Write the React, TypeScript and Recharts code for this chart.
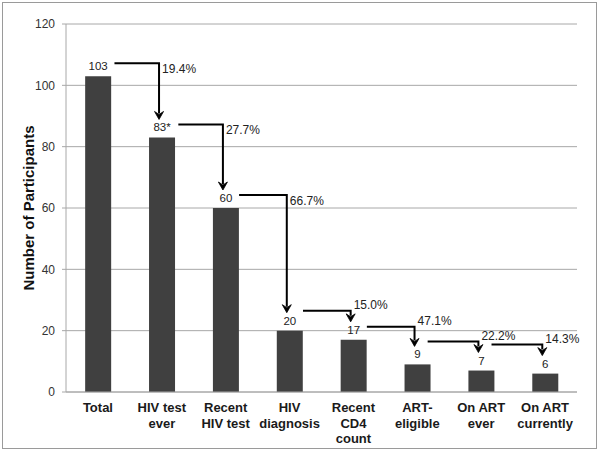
import React from 'react';
import { BarChart, Bar, XAxis, YAxis, CartesianGrid, LabelList } from 'recharts';

const categories = [
  'Total',
  'HIV test\never',
  'Recent\nHIV test',
  'HIV\ndiagnosis',
  'Recent\nCD4\ncount',
  'ART-\neligible',
  'On ART\never',
  'On ART\ncurrently',
];
const counts = [103, 83, 60, 20, 17, 9, 7, 6];
const countLabels = ['103', '83*', '60', '20', '17', '9', '7', '6'];
const dropPercents = ['19.4%', '27.7%', '66.7%', '15.0%', '47.1%', '22.2%', '14.3%'];
const yTicks = [0, 20, 40, 60, 80, 100, 120];

const data = categories.map((c, i) => ({ name: c, count: counts[i] }));

const W = 600;
const H = 451;
const M = { top: 24, right: 23, left: 0, bottom: 0 };
const Y_AXIS_W = 66;
const X_AXIS_H = 59;
const BAND = (W - M.left - M.right - Y_AXIS_W) / categories.length;

const FONT = '"Liberation Sans", Arial, Helvetica, sans-serif';

const XTick = (props: any) => {
  const { x, y, payload } = props;
  const lines = String(payload.value).split('\n');
  return (
    <text
      x={x}
      y={y}
      textAnchor="middle"
      fontFamily={FONT}
      fontSize={13}
      fontWeight="bold"
      fill="#1a1a1a"
    >
      {lines.map((l, k) => (
        <tspan key={k} x={x} dy={k === 0 ? 12 : 15.5}>
          {l}
        </tspan>
      ))}
    </text>
  );
};

const Annot = (props: any) => {
  const { x, y, width, height, index } = props;
  const i = index as number;
  const v = counts[i];
  const cx = Number(x) + Number(width) / 2;
  const top = Number(y);
  const base = top + Number(height);
  const ppu = Number(height) / v;
  const label = countLabels[i];
  const els: React.ReactNode[] = [];
  els.push(
    <text
      key="v"
      x={cx}
      y={top - 10}
      textAnchor="middle"
      dominantBaseline="central"
      fontFamily={FONT}
      fontSize={11.5}
      fill="#222"
    >
      {label}
    </text>
  );
  if (i < counts.length - 1) {
    const nextTop = base - counts[i + 1] * ppu;
    const textW = label.length * 6.2;
    const x0 = cx + textW / 2 + 7;
    const x1 = cx + BAND - 3;
    const tip = nextTop - 18;
    const hy = Math.min(top - 13, tip - 11);
    const ty = tip - hy < 22 ? hy - 6 : hy + 6;
    els.push(
      <path
        key="a"
        d={`M${x0},${hy} H${x1} V${tip - 6}`}
        fill="none"
        stroke="#000"
        strokeWidth={2}
      />
    );
    els.push(
      <polygon
        key="h"
        points={`${x1 - 4.5},${tip - 8} ${x1},${tip - 5} ${x1 + 4.5},${tip - 8} ${x1},${tip}`}
        fill="#000"
        stroke="#000"
        strokeWidth={0.8}
        strokeLinejoin="round"
      />
    );
    els.push(
      <text
        key="p"
        x={x1 + 3}
        y={ty}
        textAnchor="start"
        dominantBaseline="central"
        fontFamily={FONT}
        fontSize={12}
        fill="#222"
      >
        {dropPercents[i]}
      </text>
    );
  }
  return <g>{els}</g>;
};

const YLabel = (props: any) => {
  const vb = props.viewBox || { x: 0, y: M.top, width: Y_AXIS_W, height: H - M.top - X_AXIS_H };
  const cx = vb.x + 28;
  const cy = vb.y + vb.height / 2;
  return (
    <text
      x={cx}
      y={cy}
      transform={`rotate(-90, ${cx}, ${cy})`}
      textAnchor="middle"
      dominantBaseline="central"
      fontFamily={FONT}
      fontSize={15}
      fontWeight="bold"
      fill="#111"
    >
      Number of Participants
    </text>
  );
};

export default function App() {
  return (
    <div style={{ position: 'absolute', left: 0, top: 0, width: W, height: H, background: '#fff' }}>
      <div
        style={{
          position: 'absolute',
          left: 2,
          top: 2,
          width: 595,
          height: 447,
          border: '1.5px solid #9a9a9a',
          boxSizing: 'border-box',
        }}
      />
      <div style={{ position: 'absolute', left: 0, top: 0 }}>
        <BarChart width={W} height={H} data={data} margin={M} barCategoryGap="30%">
          <CartesianGrid vertical={false} stroke="#a8a8a8" strokeWidth={1} />
          <XAxis
            dataKey="name"
            height={X_AXIS_H}
            tickLine={false}
            axisLine={{ stroke: '#a8a8a8' }}
            tick={<XTick />}
            interval={0}
          />
          <YAxis
            width={Y_AXIS_W}
            domain={[0, 120]}
            ticks={yTicks}
            tickSize={4}
            tickMargin={7}
            tickLine={{ stroke: '#a8a8a8' }}
            axisLine={{ stroke: '#a8a8a8' }}
            tick={{ fontFamily: FONT, fontSize: 12, fill: '#333' }}
            label={{ content: (p: any) => <YLabel {...p} /> }}
          />
          <Bar dataKey="count" fill="#404040" isAnimationActive={false}>
            <LabelList dataKey="count" content={(p: any) => <Annot {...p} />} />
          </Bar>
        </BarChart>
      </div>
    </div>
  );
}
